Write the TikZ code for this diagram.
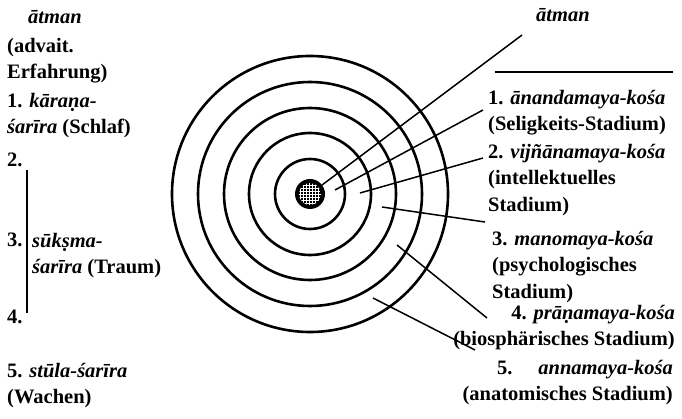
\documentclass[tikz,border=0pt]{standalone}
\usepackage{fontspec}
\setmainfont{Liberation Serif}
\usetikzlibrary{patterns}

\newcommand{\lblfont}{\fontsize{20.5}{26.5}\selectfont\bfseries}
\tikzset{
  ring/.style={line width=2.6pt},
  pointer/.style={line width=1.5pt},
  lbl/.style={anchor=north west, inner sep=0pt, align=left, font=\lblfont},
  rlbl/.style={anchor=north east, inner sep=0pt, align=right, font=\lblfont},
}

\begin{document}
\begin{tikzpicture}[x=1pt, y=-1pt]
      \useasboundingbox (0,0) rectangle (682,419);

      % the five sheaths round the centre
      \coordinate (c) at (310,194);
      \foreach \r in {35,61,86,112,138}
        \draw[ring] (c) circle (\r pt);
      \fill (c) circle (15pt);
      \fill[pattern=grid, pattern color=white] (c) circle (11pt);

      % left column
      \node[lbl] (atmanL) at (28,10) {\textit{ātman}};
      \node[lbl] (advaita) at (7,38) {(advait.\\Erfahrung)};
      \node[lbl] (karana) at (7,93) {1. \textit{kāraṇa-}\\\textit{śarīra} (Schlaf)};
      \node[lbl] (num2) at (7,153) {2.};
      \node[lbl] (num3) at (7,233) {3.};
      \node[lbl] (suksma) at (32,233) {\textit{sūkṣma-}\\\textit{śarīra} (Traum)};
      \node[lbl] (num4) at (7,310) {4.};
      \node[lbl] (sthula) at (7,363) {5. \textit{stūla-śarīra}\\(Wachen)};
      \coordinate (b2) at (27,170);
      \coordinate (b4) at (27,313);
      \draw[pointer] (b2) -- (b4);

      % right column
      \node[lbl] (atmanR) at (536,8) {\textit{ātman}};
      \node[lbl] (kosa1) at (488,90) {1. \textit{ānandamaya-kośa}\\(Seligkeits-Stadium)};
      \node[lbl] (kosa2) at (488,144) {2. \textit{vijñānamaya-kośa}\\(intellektuelles\\Stadium)};
      \node[lbl] (kosa3) at (492,231) {3. \textit{manomaya-kośa}\\(psychologisches\\Stadium)};
      \node[rlbl] (kosa4) at (675,305) {4. \textit{prāṇamaya-kośa}\\(biosphärisches Stadium)};
      \node[rlbl] (kosa5) at (673,360) {5.\hspace{26pt}\textit{annamaya-kośa}\\(anatomisches Stadium)};

      % pointers from the rings
      \coordinate (p0) at (322,185);
      \coordinate (p1) at (335,190);
      \coordinate (p2) at (360,193);
      \coordinate (p3) at (382,207);
      \coordinate (p4) at (397,245);
      \coordinate (p5) at (373,298);
      \coordinate (e0) at (522,35);
      \coordinate (e1) at (483,110);
      \coordinate (e2) at (483,158);
      \coordinate (e3) at (485,222);
      \coordinate (e4) at (487,318);
      \coordinate (e5) at (475,350);
      \foreach \i in {0,...,5}
        \draw[pointer] (p\i) -- (e\i);
      \coordinate (r1) at (495,72);
      \coordinate (r2) at (673,72);
      \draw[pointer] (r1) -- (r2);
    \end{tikzpicture}
\end{document}
